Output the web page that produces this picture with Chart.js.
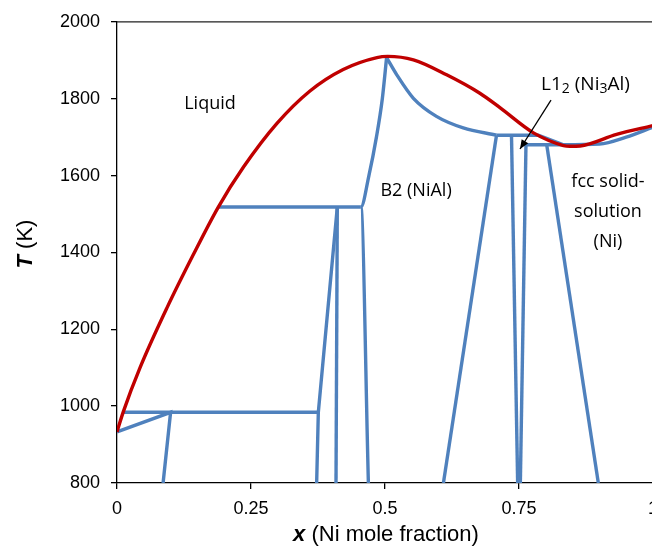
<!DOCTYPE html>
<html lang="en">
<head>
<meta charset="UTF-8">
<title>Al-Ni phase diagram</title>
<script src="https://cdn.jsdelivr.net/npm/chart.js"></script>
<style>
    html, body { margin: 0; padding: 0; background: #fff; overflow: hidden; }
    #wrap { width: 652px; height: 547px; overflow: hidden; }
</style>
</head>
<body>
<div id="wrap"><canvas id="myChart" width="680" height="547"></canvas></div>
<script>
    // liquidus (red)
    var liquidusX = [0, 0.0117, 0.043, 0.093, 0.142, 0.189, 0.236, 0.298, 0.36, 0.422, 0.485, 0.505, 0.553, 0.615, 0.677, 0.715, 0.777, 0.833, 0.845, 0.864, 0.932, 1.0];
    var liquidusT = [933, 985, 1100, 1255, 1393, 1518, 1622, 1735, 1820, 1876, 1907, 1910, 1901, 1862, 1814, 1776, 1711, 1678, 1676, 1677, 1707, 1730];

    // phase boundaries (blue)
    var al3niX = [0, 0.1, 0.086];
    var al3niT = [933, 984, 800];
    var eutecticX = [0.0117, 0.3756];
    var eutecticT = [984, 984];
    var al3ni2LeftX = [0.3725, 0.3756, 0.411];
    var al3ni2LeftT = [800, 984, 1518];
    var al3ni2RightX = [0.4086, 0.411];
    var al3ni2RightT = [800, 1518];
    var peritecticX = [0.189, 0.455];
    var peritecticT = [1518, 1518];
    var b2LeftX = [0.469, 0.455, 0.47, 0.484, 0.495, 0.503];
    var b2LeftT = [800, 1518, 1600, 1700, 1800, 1907];
    var b2TopX = [0.503, 0.522, 0.553, 0.596, 0.646, 0.708];
    var b2TopT = [1907, 1862, 1801, 1754, 1724, 1705];
    var b2RightX = [0.609, 0.708];
    var b2RightT = [800, 1705];
    var upperTieX = [0.708, 0.786, 0.833];
    var upperTieT = [1705, 1705, 1680];
    var l12LeftX = [0.736, 0.7475];
    var l12LeftT = [1705, 800];
    var l12RightX = [0.763, 0.7525];
    var l12RightT = [1680, 800];
    var solidusX = [0.761, 0.833, 0.9, 0.95, 1.0];
    var solidusT = [1680, 1680, 1682, 1700, 1726];
    var fccSolvusX = [0.8017, 0.898];
    var fccSolvusT = [1680, 800];

    var xTicks = [0, 0.25, 0.5, 0.75, 1];
    var yTicks = [800, 1000, 1200, 1400, 1600, 1800, 2000];

    var RED = '#C00000';
    var BLUE = '#4F81BD';

    function pts(xs, ys){
        var out = [];
        for(var i = 0; i < xs.length; i++){
            out.push({x: xs[i], y: ys[i]});
        }
        return out;
    }

    function blue(xs, ys, curved){
        return {
            data: pts(xs, ys),
            showLine: true,
            borderColor: BLUE,
            borderWidth: 3.4,
            pointRadius: 0,
            cubicInterpolationMode: curved ? 'monotone' : 'default',
            tension: 0
        };
    }

    var datasets = [
        {
            data: pts(liquidusX, liquidusT),
            showLine: true,
            borderColor: RED,
            borderWidth: 3.4,
            pointRadius: 0,
            cubicInterpolationMode: 'monotone'
        },
        blue(al3niX, al3niT),
        blue(eutecticX, eutecticT),
        blue(al3ni2LeftX, al3ni2LeftT),
        blue(al3ni2RightX, al3ni2RightT),
        blue(peritecticX, peritecticT),
        blue(b2LeftX, b2LeftT, true),
        blue(b2TopX, b2TopT, true),
        blue(b2RightX, b2RightT),
        blue(upperTieX, upperTieT),
        blue(l12LeftX, l12LeftT),
        blue(l12RightX, l12RightT),
        blue(solidusX, solidusT, true),
        blue(fccSolvusX, fccSolvusT)
    ];

    var labelFont = '18px "Open Sans"';

    var extras = {
        id: 'extras',
        afterDraw: function(chart){
            var ctx = chart.ctx;
            var xs = chart.scales.x, ys = chart.scales.y;
            var a = chart.chartArea;
            ctx.save();

            // top and right frame
            ctx.strokeStyle = '#222';
            ctx.lineWidth = 1.3;
            ctx.beginPath();
            ctx.moveTo(a.left, a.top);
            ctx.lineTo(a.right, a.top);
            ctx.lineTo(a.right, a.bottom);
            ctx.stroke();

            // region labels
            ctx.fillStyle = '#000';
            ctx.font = labelFont;
            ctx.textAlign = 'center';
            ctx.textBaseline = 'middle';
            ctx.fillText('Liquid', xs.getPixelForValue(0.1735), ys.getPixelForValue(1786));
            ctx.fillText('B2 (NiAl)', xs.getPixelForValue(0.558), ys.getPixelForValue(1560));
            ctx.fillText('fcc solid-', xs.getPixelForValue(0.916), ys.getPixelForValue(1583));
            ctx.fillText('solution', xs.getPixelForValue(0.916), ys.getPixelForValue(1505));
            ctx.fillText('(Ni)', xs.getPixelForValue(0.916), ys.getPixelForValue(1427));

            // L1_2 (Ni_3Al) with subscripts
            var mainFont = '19px "Open Sans"';
            var subFont = '14px "Open Sans"';
            var parts = [['L1', 0], ['2', 1], [' (Ni', 0], ['3', 1], ['Al)', 0]];
            var total = 0;
            parts.forEach(function(p){
                ctx.font = p[1] ? subFont : mainFont;
                total += ctx.measureText(p[0]).width;
            });
            var cx = xs.getPixelForValue(0.874) - total / 2;
            var cy = ys.getPixelForValue(1837);
            ctx.textAlign = 'left';
            parts.forEach(function(p){
                ctx.font = p[1] ? subFont : mainFont;
                ctx.fillText(p[0], cx, cy + (p[1] ? 5 : 0));
                cx += ctx.measureText(p[0]).width;
            });

            // arrow
            var x1 = xs.getPixelForValue(0.8097), y1 = ys.getPixelForValue(1796);
            var x2 = xs.getPixelForValue(0.7519), y2 = ys.getPixelForValue(1669);
            ctx.strokeStyle = '#000';
            ctx.lineWidth = 1.3;
            ctx.beginPath();
            ctx.moveTo(x1, y1);
            ctx.lineTo(x2, y2);
            ctx.stroke();
            var ang = Math.atan2(y2 - y1, x2 - x1);
            ctx.beginPath();
            ctx.moveTo(x2, y2);
            ctx.lineTo(x2 - 10 * Math.cos(ang - 0.4), y2 - 10 * Math.sin(ang - 0.4));
            ctx.lineTo(x2 - 10 * Math.cos(ang + 0.4), y2 - 10 * Math.sin(ang + 0.4));
            ctx.closePath();
            ctx.fillStyle = '#000';
            ctx.fill();

            // axis titles
            ctx.textBaseline = 'middle';
            ctx.font = 'italic bold 22px "Liberation Sans"';
            var w1 = ctx.measureText('x').width;
            ctx.font = '22px "Liberation Sans"';
            var w2 = ctx.measureText(' (Ni mole fraction)').width;
            var sx = 386 - (w1 + w2) / 2;
            ctx.textAlign = 'left';
            ctx.font = 'italic bold 22px "Liberation Sans"';
            ctx.fillText('x', sx, 535);
            ctx.font = '22px "Liberation Sans"';
            ctx.fillText(' (Ni mole fraction)', sx + w1, 535);

            ctx.translate(26, 244);
            ctx.rotate(-Math.PI / 2);
            ctx.font = 'italic bold 22px "Liberation Sans"';
            var t1 = ctx.measureText('T').width;
            ctx.font = '22px "Liberation Sans"';
            var t2 = ctx.measureText(' (K)').width;
            var tx = -(t1 + t2) / 2;
            ctx.font = 'italic bold 22px "Liberation Sans"';
            ctx.fillText('T', tx, 0);
            ctx.font = '22px "Liberation Sans"';
            ctx.fillText(' (K)', tx + t1, 0);

            ctx.restore();
        }
    };

    new Chart(document.getElementById('myChart'), {
        type: 'scatter',
        data: { datasets: datasets },
        options: {
            responsive: false,
            animation: false,
            devicePixelRatio: 1,
            layout: { padding: { top: 20, right: 27, left: 0, bottom: 0 } },
            plugins: {
                legend: { display: false },
                tooltip: { enabled: false }
            },
            scales: {
                x: {
                    type: 'linear',
                    min: 0,
                    max: 1,
                    afterFit: function(scale){ scale.height = 64; },
                    afterBuildTicks: function(scale){
                        scale.ticks = xTicks.map(function(v){ return {value: v}; });
                    },
                    ticks: {
                        color: '#000',
                        font: { family: '"Liberation Sans"', size: 18 },
                        padding: 9,
                        maxRotation: 0,
                        callback: function(v){ return String(v); }
                    },
                    grid: { drawOnChartArea: false, tickLength: 6, color: '#000', lineWidth: 1.3 },
                    border: { color: '#000', width: 1.3 }
                },
                y: {
                    type: 'linear',
                    min: 800,
                    max: 2000,
                    afterFit: function(scale){ scale.width = 117; },
                    afterBuildTicks: function(scale){
                        scale.ticks = yTicks.map(function(v){ return {value: v}; });
                    },
                    ticks: {
                        color: '#000',
                        font: { family: '"Liberation Sans"', size: 18 },
                        padding: 11,
                        callback: function(v){ return String(v); }
                    },
                    grid: { drawOnChartArea: false, tickLength: 6, color: '#000', lineWidth: 1.3 },
                    border: { color: '#000', width: 1.3 }
                }
            }
        },
        plugins: [extras]
    });
</script>
</body>
</html>
